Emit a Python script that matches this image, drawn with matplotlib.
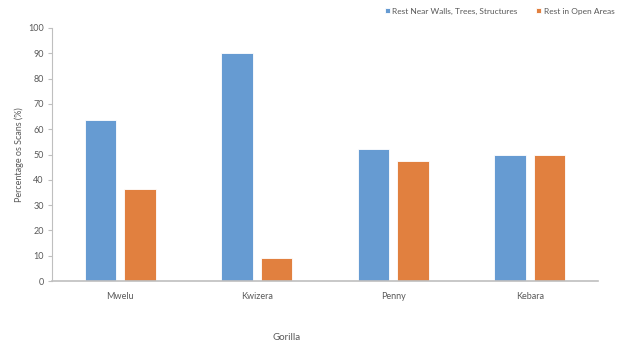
import numpy as np
import matplotlib.pyplot as plt

gorillas = ["Mwelu", "Kwizera", "Penny", "Kebara"]
near_structures = [63.6, 90.3, 52.3, 50.0]
open_areas = [36.4, 9.0, 47.3, 50.0]
series_names = ["Rest Near Walls, Trees, Structures", "Rest in Open Areas"]
yticks = np.arange(0, 101, 10)

blue = "#669BD2"
orange = "#E1803F"
grey_txt = "#595959"
axis_grey = "#BFBFBF"

plt.rcParams["font.family"] = ["Lato", "DejaVu Sans"]

fig = plt.figure(figsize=(6.25, 3.49), dpi=100)
ax = fig.add_axes([0.0832, 0.1948, 0.8736, 0.725])

x = np.arange(len(gorillas))
w = 0.23
off = 0.145
b1 = ax.bar(x - off, near_structures, w, color=blue, edgecolor="white", linewidth=0.6,
            label=series_names[0])
b2 = ax.bar(x + off, open_areas, w, color=orange, edgecolor="white", linewidth=0.6,
            label=series_names[1])

ax.set_xlim(-0.5, len(gorillas) - 0.5)
ax.set_ylim(0, 100)
ax.set_yticks(yticks)
ax.set_xticks(x)
ax.set_xticklabels(gorillas)

for s in ["top", "right"]:
    ax.spines[s].set_visible(False)
ax.spines["left"].set_color(axis_grey)
ax.spines["left"].set_linewidth(0.8)
ax.spines["bottom"].set_color(axis_grey)
ax.spines["bottom"].set_linewidth(1.2)

ax.tick_params(axis="y", colors=axis_grey, labelcolor=grey_txt, labelsize=6.5,
               length=3, width=0.8, pad=3)
ax.tick_params(axis="x", length=0, labelcolor=grey_txt, labelsize=6.5, pad=8)

ax.set_ylabel("Percentage os Scans (%)", fontsize=6.5, color=grey_txt, labelpad=3)
# x axis title sits left of the axes centre
fig.text(287 / 625, 1 - 338 / 349, "Gorilla", fontsize=7, color=grey_txt,
         ha="center", va="center")

fig.legend(handles=[b1, b2], loc="upper right", bbox_to_anchor=(0.995, 1.0),
           ncol=2, frameon=False, fontsize=6, labelcolor=grey_txt,
           handlelength=0.6, handleheight=0.6, handletextpad=0.3, columnspacing=2.2)

fig.savefig("out.png", dpi=100)
